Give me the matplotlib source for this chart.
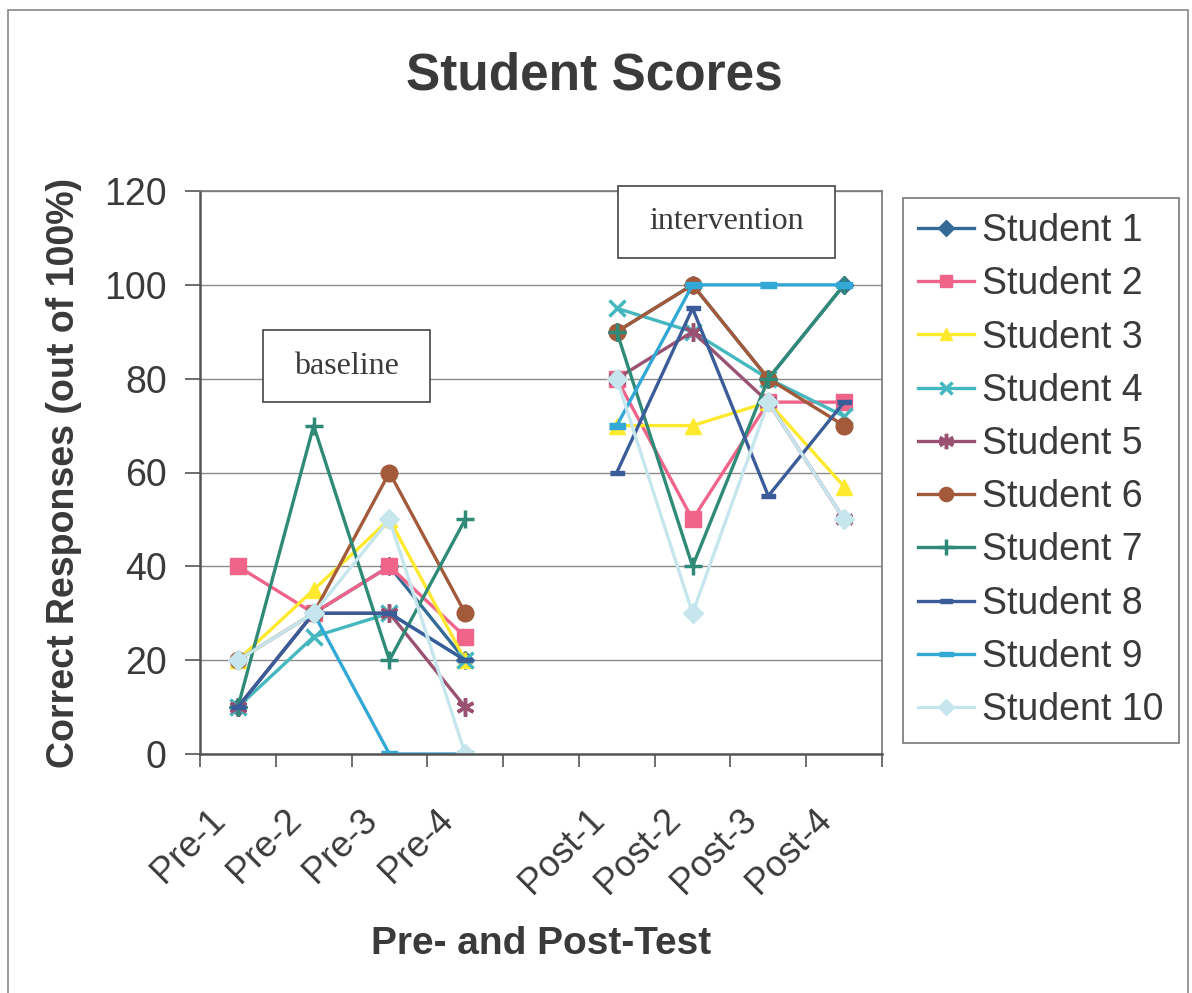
import numpy as np
import matplotlib.pyplot as plt
import matplotlib.transforms as mtransforms
from matplotlib.patches import Rectangle

# categories (blank slot separates baseline from intervention)
categories = ['Pre-1', 'Pre-2', 'Pre-3', 'Pre-4', '', 'Post-1', 'Post-2', 'Post-3', 'Post-4']
nan = np.nan

student_1 = [10, 30, 40, 20, nan, 90, 100, 80, 100]
student_2 = [40, 30, 40, 25, nan, 80, 50, 75, 75]
student_3 = [20, 35, 50, 20, nan, 70, 70, 75, 57]
student_4 = [10, 25, 30, 20, nan, 95, 90, 80, 72]
student_5 = [10, 30, 30, 10, nan, 80, 90, 75, 50]
student_6 = [20, 30, 60, 30, nan, 90, 100, 80, 70]
student_7 = [10, 70, 20, 50, nan, 90, 40, 80, 100]
student_8 = [10, 30, 30, 20, nan, 60, 95, 55, 75]
student_9 = [nan, 30, 0, 0, nan, 70, 100, 100, 100]
student_10 = [20, 30, 50, 0, nan, 80, 30, 75, 50]

names = ['Student %d' % i for i in range(1, 11)]
series = [student_1, student_2, student_3, student_4, student_5,
          student_6, student_7, student_8, student_9, student_10]

dash = [(-1, -0.35), (1, -0.35), (1, 0.35), (-1, 0.35)]
asterisk = (6, 2, 0)
styles = [
    dict(color='#336b96', marker='D', ms=9),
    dict(color='#f0648a', marker='s', ms=11),
    dict(color='#ffe92e', marker='^', ms=11),
    dict(color='#44b8be', marker='x', ms=11, mew=2.5),
    dict(color='#9a5272', marker=asterisk, ms=13, mew=2.5),
    dict(color='#a35a3a', marker='o', ms=12),
    dict(color='#2f8a78', marker='+', ms=13, mew=2.5),
    dict(color='#3a5c98', marker=dash, ms=10),
    dict(color='#32a8d6', marker=dash, ms=12),
    dict(color='#c6e6ee', marker='D', ms=10),
]

text_color = '#3a3a3a'
plt.rcParams['font.family'] = ['Liberation Sans', 'DejaVu Sans']

fig = plt.figure(figsize=(11.92, 9.93), dpi=100)
ax = fig.add_axes([200 / 1192, 1 - 754 / 993, 682 / 1192, 563 / 993])

x = np.arange(len(categories))
handles = []
for name, vals, st in zip(names, series, styles):
    h, = ax.plot(x, vals, lw=2.4, label=name, **st)
    handles.append(h)

ax.set_xlim(-0.5, len(categories) - 0.5)
ax.set_ylim(0, 120)
ax.set_yticks(range(0, 121, 20))
ax.yaxis.grid(True, color='#8a8a8a', lw=1)
ax.set_axisbelow(True)

ax.set_xticks(x)
ax.set_xticklabels(categories, rotation=45, ha='right', rotation_mode='anchor')
ax.set_xticks(np.arange(-0.5, len(categories), 1), minor=True)
ax.tick_params(axis='x', which='major', length=0, pad=26, labelsize=26, labelcolor=text_color)
ax.tick_params(axis='x', which='minor', length=9, width=1.2, color='#555555', direction='out')
ax.tick_params(axis='y', length=11, width=1.2, color='#555555', pad=13, labelsize=27,
               labelcolor=text_color)

# shift the rotated labels so they end left of the category centre
shift = mtransforms.ScaledTranslation(-0.30, -0.12, fig.dpi_scale_trans)
for lab in ax.get_xticklabels():
    lab.set_transform(lab.get_transform() + shift)

for side in ['top', 'right']:
    ax.spines[side].set_color('#777777')
    ax.spines[side].set_linewidth(1.2)
for side in ['left', 'bottom']:
    ax.spines[side].set_color('#555555')
    ax.spines[side].set_linewidth(1.8)

ax.set_xlabel('Pre- and Post-Test', fontsize=28, fontweight='bold', color=text_color, labelpad=18)
ax.set_ylabel('Correct Responses (out of 100%)', fontsize=27, fontweight='bold',
              color=text_color, labelpad=16)
fig.text(0.499, 0.923, 'Student Scores', ha='center', va='center', fontsize=37,
         fontweight='bold', color=text_color)

# phase boxes
for (x0, y0, w, h, label) in [(0.0924, 0.625, 0.245, 0.128, 'baseline'),
                              (0.613, 0.881, 0.318, 0.128, 'intervention')]:
    ax.add_patch(Rectangle((x0, y0), w, h, transform=ax.transAxes, facecolor='white',
                           edgecolor='#444444', lw=1.2, clip_on=False, zorder=5))
    ax.text(x0 + w / 2, y0 + h / 2, label, transform=ax.transAxes, ha='center',
            va='center', fontsize=23, family=['Liberation Serif', 'DejaVu Serif'],
            color=text_color, zorder=6)

leg = fig.legend(handles=handles, loc='upper left', bbox_to_anchor=(903 / 1192, 1 - 198 / 993),
                 borderaxespad=0, fontsize=27, frameon=True, fancybox=False,
                 edgecolor='#555555', labelspacing=0.46, handlelength=1.5, handletextpad=0.22,
                 borderpad=0.4, markerscale=0.85)
for t in leg.get_texts():
    t.set_color(text_color)
leg.get_frame().set_linewidth(1.2)

# outer chart border
fig.add_artist(Rectangle((8 / 1192, -0.02), 1180 / 1192, 1.02 - 10 / 993, transform=fig.transFigure,
                         fill=False, edgecolor='#888888', lw=1.2))

fig.savefig('out.png', dpi=100, facecolor='white')
